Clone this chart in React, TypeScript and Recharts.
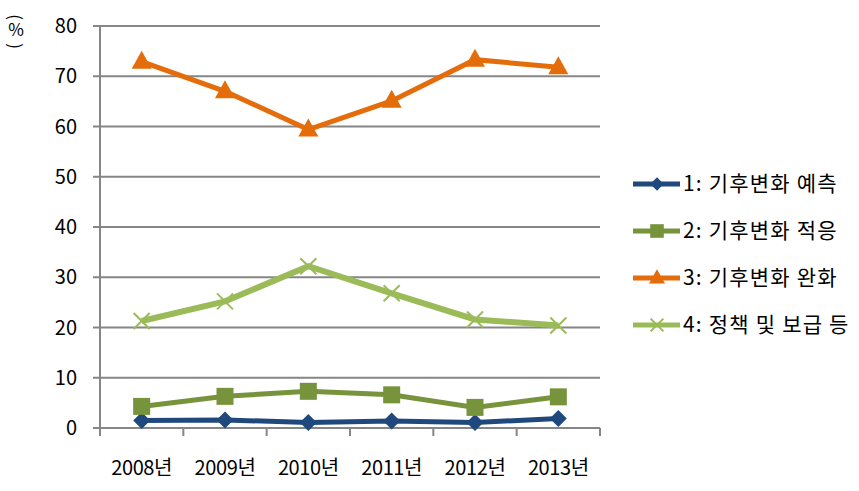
import { LineChart, Line, XAxis, YAxis, CartesianGrid } from "recharts";

const years = ["2008년", "2009년", "2010년", "2011년", "2012년", "2013년"];
const forecast = [1.5, 1.6, 1.1, 1.4, 1.1, 1.9];
const adaptation = [4.3, 6.3, 7.3, 6.6, 4.1, 6.2];
const mitigation = [72.9, 67.0, 59.4, 65.1, 73.3, 71.8];
const policy = [21.3, 25.2, 32.2, 26.8, 21.6, 20.4];
const yTicks = [0, 10, 20, 30, 40, 50, 60, 70, 80];

const seriesNames = ["1: 기후변화 예측", "2: 기후변화 적응", "3: 기후변화 완화", "4: 정책 및 보급 등"];
const colors = ["#1F497D", "#77933C", "#E46C0A", "#9BBB59"];

const data = years.map((year, i) => ({
  year,
  forecast: forecast[i],
  adaptation: adaptation[i],
  mitigation: mitigation[i],
  policy: policy[i],
}));

const FONT = "'Noto Sans CJK KR', 'Noto Sans', sans-serif";
const GRAY = "#868686";
const PLOT_LEFT = 100;
const PLOT_W = 500;
const BAND = PLOT_W / years.length;

function Marker({ kind, cx, cy, s = 1 }: { kind: number; cx: number; cy: number; s?: number }) {
  const c = colors[kind];
  if (kind === 0) {
    const r = 8.5 * s;
    return <polygon points={`${cx},${cy - r} ${cx + r},${cy} ${cx},${cy + r} ${cx - r},${cy}`} fill={c} />;
  }
  if (kind === 1) {
    const r = 8.5 * s;
    return <rect x={cx - r} y={cy - r} width={2 * r} height={2 * r} fill={c} />;
  }
  if (kind === 2) {
    const w = 10 * s;
    return <polygon points={`${cx},${cy - 11 * s} ${cx + w},${cy + 7 * s} ${cx - w},${cy + 7 * s}`} fill={c} />;
  }
  const r = 8 * s;
  return (
    <g stroke={c} strokeWidth={2}>
      <line x1={cx - r} y1={cy - r} x2={cx + r} y2={cy + r} />
      <line x1={cx - r} y1={cy + r} x2={cx + r} y2={cy - r} />
    </g>
  );
}

const dotFor = (kind: number) => (p: any) => <Marker key={`${kind}-${p.index}`} kind={kind} cx={p.cx} cy={p.cy} />;

function XTick(props: any) {
  const { x, y, payload, index } = props;
  const axisY = y - 8;
  return (
    <g>
      <line x1={x - BAND / 2} y1={axisY} x2={x - BAND / 2} y2={axisY + 8} stroke={GRAY} strokeWidth={2} />
      {index === years.length - 1 && (
        <line x1={x + BAND / 2} y1={axisY} x2={x + BAND / 2} y2={axisY + 8} stroke={GRAY} strokeWidth={2} />
      )}
      <text x={x} y={axisY + 47} textAnchor="middle" fontSize={20} fontFamily={FONT} fill="#000" letterSpacing={-0.4}>
        {payload.value}
      </text>
    </g>
  );
}

function UnitLabel() {
  return (
    <g fontFamily={FONT} fill="#000" fontSize={17}>
      <text x={16} y={17} textAnchor="middle" transform="rotate(90 16 17)" dominantBaseline="central">(</text>
      <text x={16} y={36} textAnchor="middle">%</text>
      <text x={16} y={46} textAnchor="middle" transform="rotate(90 16 46)" dominantBaseline="central">)</text>
    </g>
  );
}

function LegendBox() {
  return (
    <svg width={240} height={200} style={{ position: "absolute", left: 620, top: 150 }}>
      {seriesNames.map((name, i) => {
        const cy = 34 + i * 47;
        return (
          <g key={name}>
            <line x1={13} y1={cy} x2={60} y2={cy} stroke={colors[i]} strokeWidth={5} />
            <Marker kind={i} cx={37} cy={cy} s={0.8} />
            <text x={63} y={cy + 7} fontSize={21} fontFamily={FONT} fill="#000" letterSpacing={1.2}>{name}</text>
          </g>
        );
      })}
    </svg>
  );
}

export default function App() {
  return (
    <div style={{ position: "absolute", left: 0, top: 0, width: 859, height: 491, background: "#fff" }}>
      <LineChart
        width={859}
        height={491}
        data={data}
        margin={{ top: 26, right: 259, left: PLOT_LEFT - 60, bottom: 0 }}
      >
        <CartesianGrid vertical={false} stroke={GRAY} strokeWidth={2} />
        <XAxis
          dataKey="year"
          height={63}
          axisLine={{ stroke: GRAY, strokeWidth: 2 }}
          tickLine={false}
          tick={<XTick />}
          interval={0}
          padding={{ left: BAND / 2, right: BAND / 2 }}
        />
        <YAxis
          width={60}
          domain={[0, 80]}
          ticks={yTicks}
          axisLine={{ stroke: GRAY, strokeWidth: 2 }}
          tickLine={{ stroke: GRAY, strokeWidth: 2 }}
          tickSize={7}
          tickMargin={16}
          tick={{ fontSize: 20, fontFamily: FONT, fill: "#000" }}
        />
        <Line dataKey="forecast" stroke={colors[0]} strokeWidth={5} dot={dotFor(0)} activeDot={false} isAnimationActive={false} />
        <Line dataKey="adaptation" stroke={colors[1]} strokeWidth={5} dot={dotFor(1)} activeDot={false} isAnimationActive={false} />
        <Line dataKey="mitigation" stroke={colors[2]} strokeWidth={5} dot={dotFor(2)} activeDot={false} isAnimationActive={false} />
        <Line dataKey="policy" stroke={colors[3]} strokeWidth={6} dot={dotFor(3)} activeDot={false} isAnimationActive={false} />
      </LineChart>
      <svg width={40} height={60} style={{ position: "absolute", left: 0, top: 0 }}>
        <UnitLabel />
      </svg>
      <LegendBox />
    </div>
  );
}
